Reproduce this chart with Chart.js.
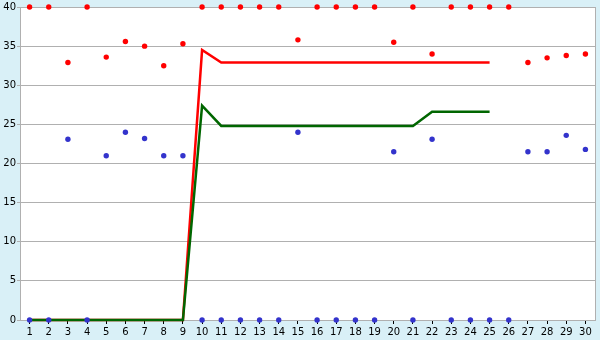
<!DOCTYPE html>
<html>
<head>
<meta charset="utf-8">
<script src="https://cdn.jsdelivr.net/npm/chart.js@4/dist/chart.umd.min.js"></script>
<style>
html,body{margin:0;padding:0;background:#d9f0f7;}
canvas{display:block;}
</style>
</head>
<body>
<canvas id="c" width="600" height="340"></canvas>
<script>
const categories = ['1','2','3','4','5','6','7','8','9','10','11','12','13','14','15','16','17','18','19','20','21','22','23','24','25','26','27','28','29','30'];
const redPoints  = [40,40,32.9,40,33.6,35.6,35.0,32.5,35.3,40,40,40,40,40,35.8,40,40,40,40,35.5,40,34.0,40,40,40,40,32.9,33.5,33.8,34.0];
const bluePoints = [0,0,23.1,0,21.0,24.0,23.2,21.0,21.0,0,0,0,0,0,24.0,0,0,0,0,21.5,0,23.1,0,0,0,0,21.5,21.5,23.6,21.8];
const redLine    = [0,0,0,0,0,0,0,0,0,34.5,32.9,32.9,32.9,32.9,32.9,32.9,32.9,32.9,32.9,32.9,32.9,32.9,32.9,32.9,32.9,null,null,null,null,null];
const greenLine  = [0,0,0,0,0,0,0,0,0,27.4,24.8,24.8,24.8,24.8,24.8,24.8,24.8,24.8,24.8,24.8,24.8,26.6,26.6,26.6,26.6,null,null,null,null,null];
const yTicks = [0,5,10,15,20,25,30,35,40];

const plotBg = {
  id:'plotBg',
  beforeDraw(chart){
    const {ctx, chartArea:a} = chart;
    ctx.save();
    ctx.fillStyle = '#ffffff';
    ctx.fillRect(a.left, a.top, a.right - a.left, a.bottom - a.top);
    ctx.restore();
  },
  afterDatasetsDraw(chart){
    const {ctx, chartArea:a} = chart;
    ctx.save();
    ctx.strokeStyle = '#b0b0b0';
    ctx.lineWidth = 1;
    ctx.beginPath();
    ctx.moveTo(Math.round(a.right)+0.5, a.top);
    ctx.lineTo(Math.round(a.right)+0.5, a.bottom);
    ctx.stroke();
    ctx.restore();
  }
};

const font = {family:'"DejaVu Sans", Verdana, sans-serif', size:10};

new Chart(document.getElementById('c'), {
  type:'line',
  data:{
    labels: categories,
    datasets:[
      {data:redPoints, showLine:false, pointStyle:'circle', pointRadius:2.7, pointBackgroundColor:'#ff0000', pointBorderColor:'#ff0000', pointBorderWidth:0, clip:false},
      {data:bluePoints, showLine:false, pointStyle:'circle', pointRadius:2.7, pointBackgroundColor:'#3333cc', pointBorderColor:'#3333cc', pointBorderWidth:0, clip:false},
      {data:greenLine, borderColor:'#006600', borderWidth:2.5, pointRadius:0, tension:0, spanGaps:false, clip:false},
      {data:redLine, borderColor:'#ff0000', borderWidth:2.5, pointRadius:0, tension:0, spanGaps:false, clip:false}
    ]
  },
  options:{
    responsive:false,
    animation:false,
    layout:{padding:{top:5, right:5, left:0, bottom:0}},
    plugins:{legend:{display:false}, tooltip:{enabled:false}},
    scales:{
      x:{
        type:'category',
        offset:true,
        grid:{display:true, drawOnChartArea:false, offset:false, tickLength:4, color:'#000000'},
        border:{display:true, color:'#b0b0b0'},
        ticks:{font, color:'#000000', padding:2, autoSkip:false, maxRotation:0},
        afterFit(s){ s.height = 20; }
      },
      y:{
        min:0, max:40,
        afterBuildTicks(s){ s.ticks = yTicks.map(v=>({value:v})); },
        grid:{color:'#b0b0b0', tickLength:3, tickColor:'#b0b0b0'},
        border:{display:true, color:'#b0b0b0'},
        ticks:{font, color:'#000000', padding:1},
        afterFit(s){ s.width = 20; }
      }
    }
  },
  plugins:[plotBg]
});
</script>
</body>
</html>
